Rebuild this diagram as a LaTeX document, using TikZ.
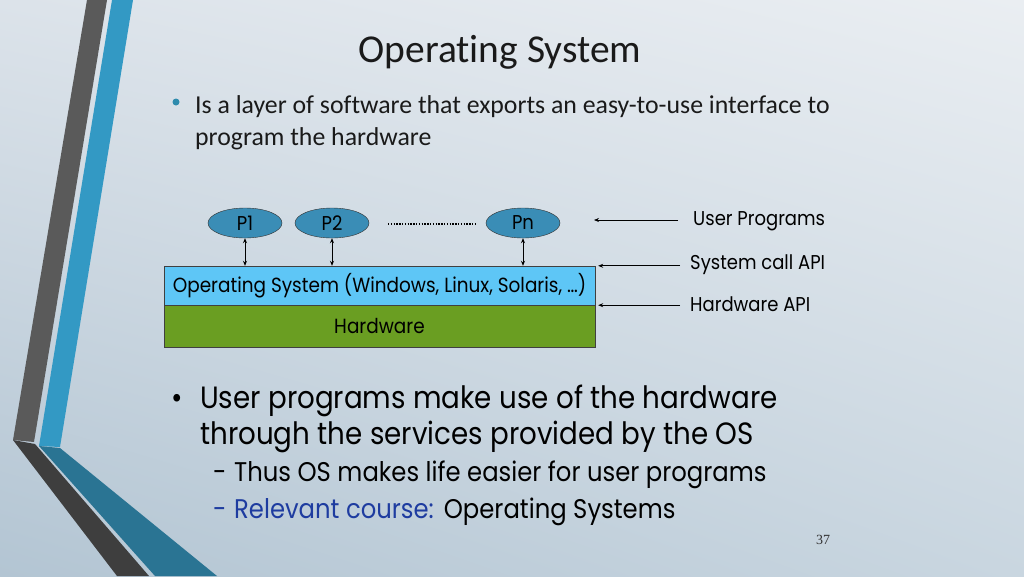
\documentclass[tikz,border=0pt]{standalone}
\usepackage{fontspec}
\setmainfont{Carlito}[Ligatures={NoCommon}]
\newfontfamily\comic{Poppins}[FakeStretch=0.9]
\newfontfamily\timesf{Liberation Serif}
\usetikzlibrary{arrows.meta,shapes.geometric,shadings}
\definecolor{bgUL}{HTML}{DCE3EA}
\definecolor{bgUR}{HTML}{EAEEF2}
\definecolor{bgLL}{HTML}{B3C5D3}
\definecolor{bgLR}{HTML}{C9D6E0}
\definecolor{barGray}{HTML}{5A5A5A}
\definecolor{barGrayD}{HTML}{3E3E3E}
\definecolor{barBlue}{HTML}{3399C4}
\definecolor{barBlueD}{HTML}{2A7493}
\definecolor{bulletTeal}{HTML}{2E8BAD}
\definecolor{procFill}{HTML}{3A8DB6}
\definecolor{osFill}{HTML}{5EC6F6}
\definecolor{hwFill}{HTML}{6A9E22}
\definecolor{relBlue}{RGB}{30,60,160}
\definecolor{txt}{HTML}{1A1A1A}
\tikzset{
  proc/.style={ellipse, draw=black!80, fill=procFill, minimum width=74pt, minimum height=30pt, inner sep=0pt, font=\comic\fontsize{20}{22}\selectfont},
  layer/.style={rectangle, draw=black!75, minimum width=431pt, inner sep=0pt, font=\comic\fontsize{20.5}{22}\selectfont},
  dbl/.style={{Stealth[length=5pt,width=4pt]}-{Stealth[length=5pt,width=4pt]}, line width=0.7pt},
  arr/.style={-{Stealth[length=5pt,width=4pt]}, line width=0.7pt},
  lbl/.style={anchor=west, inner sep=0pt, font=\comic\fontsize{20}{22}\selectfont},
  big/.style={anchor=base west, inner sep=0pt, font=\comic\fontsize{30.8}{34}\selectfont},
  mid/.style={anchor=base west, inner sep=0pt, font=\comic\fontsize{27}{30}\selectfont},
  cal/.style={anchor=base west, inner sep=0pt, text=txt, font=\fontsize{25.8}{28}\selectfont}
}
\begin{document}
\begin{tikzpicture}[x=1pt,y=-1pt]
\useasboundingbox (0,0) rectangle (1024,576);
\shade[upper left=bgUL, upper right=bgUR, lower left=bgLL, lower right=bgLR] (0,0) rectangle (1024,576);
% decorative bars
\fill[barGray] (87,0) -- (107,0) -- (34,442) -- (13,440) -- cycle;
\fill[barBlue] (112,0) -- (133,0) -- (60,447) -- (39,446) -- cycle;
\fill[barGrayD] (13,440) -- (35,444) -- (149,576) -- (117,576) -- cycle;
\fill[barBlueD] (39,446) -- (60,448) -- (217,576) -- (155,576) -- cycle;
% title
\node[anchor=base, inner sep=0pt, text=txt, font=\fontsize{39.5}{42}\selectfont] (title) at (500,62) {Operating System};
% bullet 1
\fill[bulletTeal] (176,102) circle (3.5pt);
\node[cal] (b1a) at (195,113) {Is a layer of software that exports an easy-to-use interface to};
\node[cal] (b1b) at (195,145) {program the hardware};
% diagram
\node[proc] (p1) at (245,223) {P1};
\node[proc] (p2) at (332,223) {P2};
\node[proc] (pn) at (523,223) {Pn};
\coordinate (d1) at (388,224);
\coordinate (d2) at (477,224);
\draw[line width=1.4pt, dash pattern=on 1.4pt off 1.4pt] (d1) -- (d2);
\node[layer, fill=osFill, minimum height=39pt] (os) at (379.5,285.5) {Operating System (Windows, Linux, Solaris, …)};
\node[layer, fill=hwFill, minimum height=42pt, anchor=north] (hw) at (os.south) {Hardware};
\draw[dbl] (p1.south) -- (p1.south |- os.north);
\draw[dbl] (p2.south) -- (p2.south |- os.north);
\draw[dbl] (pn.south) -- (pn.south |- os.north);
% labels on the right
\node[lbl] (lup) at (693,221) {User Programs};
\node[lbl] (lsc) at (690,265) {System call API};
\node[lbl] (lhw) at (690,304) {Hardware API};
\coordinate (aup) at (594,220);
\draw[arr] ([xshift=-15pt]lup.west |- aup) -- (aup);
\draw[arr] ([xshift=-10pt]lsc.west |- os.north) -- ([xshift=3pt]os.north east);
\draw[arr] ([xshift=-10pt]lhw.west |- os.south) -- ([xshift=3pt]os.south east);
% bottom bullets
\node[big] (bdot) at (171,408) {•};
\node[big] (l1) at (200,408) {User programs make use of the hardware};
\node[big] (l2) at (200,444) {through the services provided by the OS};
\node[mid] (s1d) at (213,481) {-};
\node[mid] (s1) at (234,481) {Thus OS makes life easier for user programs};
\node[mid, text=relBlue] (s2d) at (213,518) {-};
\node[mid] (s2) at (234,518) {\textcolor{relBlue}{Relevant course:}\hspace{10pt}Operating Systems};
% page number
\node[anchor=base, inner sep=0pt, font=\timesf\fontsize{14}{16}\selectfont, text=black!80] (pg) at (823,544) {37};
\end{tikzpicture}
\end{document}
